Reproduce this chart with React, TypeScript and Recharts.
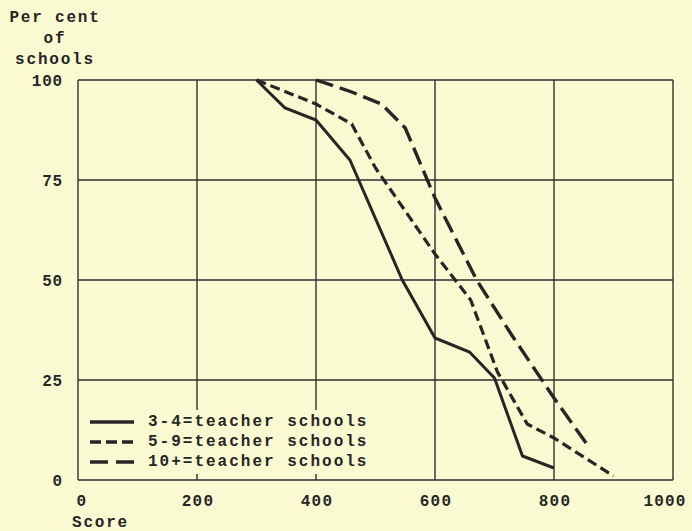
import React from "react";
import {
  LineChart,
  Line,
  XAxis,
  YAxis,
  CartesianGrid,
  Legend,
} from "recharts";

const X_TICKS = [0, 200, 400, 600, 800, 1000];
const Y_TICKS = [0, 25, 50, 75, 100];

const SCORES_3_4 = [300, 348, 400, 457, 545, 600, 658, 700, 747, 800];
const PCT_3_4 = [100, 93, 90, 80, 50, 35.5, 32, 25.5, 6, 3];

const SCORES_5_9 = [300, 400, 460, 500, 600, 660, 705, 755, 800, 900];
const PCT_5_9 = [100, 94, 89, 78, 56.5, 45, 27, 14, 10.5, 1];

const SCORES_10 = [400, 460, 510, 550, 570, 600, 670, 730, 800, 855];
const PCT_10 = [100, 97, 94, 88, 81, 70.5, 50, 36, 20.5, 9];

const SERIES_NAMES = [
  "3-4=teacher schools",
  "5-9=teacher schools",
  "10+=teacher schools",
];

const toPoints = (xs: number[], ys: number[]) =>
  xs.map((score, i) => ({ score, pct: ys[i] }));

const data34 = toPoints(SCORES_3_4, PCT_3_4);
const data59 = toPoints(SCORES_5_9, PCT_5_9);
const data10 = toPoints(SCORES_10, PCT_10);

const BG = "#fafad2";
const INK = "#262626";
const FONT = "'Liberation Mono', 'DejaVu Sans Mono', monospace";
const WEIGHT = 700;

const LINE_DASHES = ["", "10 5", "18 7"];
const LEGEND_DASHES = ["", "11 5", "18 8"];

const LegendContent = (props: any) => {
  const payload = [...(props.payload || [])].sort(
    (a: any, b: any) =>
      SERIES_NAMES.indexOf(a.value) - SERIES_NAMES.indexOf(b.value)
  );
  return (
    <div
      style={{
        background: BG,
        padding: "2px 0 2px 4px",
        fontFamily: FONT,
        fontSize: 16,
        fontWeight: WEIGHT,
        letterSpacing: 2,
        color: INK,
      }}
    >
      {payload.map((p: any) => {
        const idx = SERIES_NAMES.indexOf(p.value);
        return (
          <div
            key={p.value}
            style={{ display: "flex", alignItems: "center", height: 20 }}
          >
            <svg width={44} height={10} style={{ marginRight: 14 }}>
              <line
                x1={0}
                y1={5}
                x2={44}
                y2={5}
                stroke={INK}
                strokeWidth={3.5}
                strokeDasharray={LEGEND_DASHES[idx] || undefined}
              />
            </svg>
            <span>{p.value}</span>
          </div>
        );
      })}
    </div>
  );
};

const XTick = (props: any) => {
  const { x, y, payload } = props;
  const v = payload.value;
  const dx = v === 0 ? 4 : v === 1000 ? -8 : 1;
  return (
    <text
      x={x + dx}
      y={y}
      dy="0.71em"
      textAnchor="middle"
      fill={INK}
      fontFamily={FONT}
      fontSize={16}
      fontWeight={WEIGHT}
      letterSpacing={1.2}
    >
      {v}
    </text>
  );
};

export default function App() {
  return (
    <div
      style={{
        width: 692,
        height: 531,
        background: BG,
        position: "relative",
        overflow: "hidden",
      }}
    >
      <style>{`html, body { margin: 0; padding: 0; background: ${BG}; }`}</style>
      <div
        style={{
          position: "absolute",
          left: 0,
          top: 8,
          width: 110,
          textAlign: "center",
          fontFamily: FONT,
          fontSize: 16,
          fontWeight: WEIGHT,
          letterSpacing: 1.8,
          lineHeight: "21px",
          color: INK,
        }}
      >
        <div>Per cent</div>
        <div>of</div>
        <div>schools</div>
      </div>
      <div
        style={{
          position: "absolute",
          left: 72,
          top: 514,
          lineHeight: "18px",
          fontFamily: FONT,
          fontSize: 16,
          fontWeight: WEIGHT,
          letterSpacing: 1.8,
          color: INK,
        }}
      >
        Score
      </div>
      <LineChart
        width={692}
        height={531}
        margin={{ top: 80, right: 19, left: 0, bottom: 21 }}
        style={{ position: "absolute", left: 0, top: 0 }}
      >
        <CartesianGrid stroke="#2e2e2e" strokeWidth={1.4} />
        <XAxis
          dataKey="score"
          type="number"
          domain={[0, 1000]}
          ticks={X_TICKS}
          axisLine={false}
          tickLine={false}
          tickSize={0}
          tickMargin={15}
          height={30}
          allowDuplicatedCategory={false}
          tick={<XTick />}
        />
        <YAxis
          dataKey="pct"
          type="number"
          domain={[0, 100]}
          ticks={Y_TICKS}
          axisLine={false}
          tickLine={false}
          tickSize={0}
          tickMargin={15}
          width={78}
          tick={{
            fill: INK,
            fontFamily: FONT,
            fontSize: 16,
            fontWeight: WEIGHT,
            letterSpacing: 0.8,
          }}
        />
        <Legend
          layout="vertical"
          align="center"
          verticalAlign="middle"
          content={<LegendContent />}
          wrapperStyle={{ left: 86, top: 410, width: 296 }}
        />
        <Line
          data={data34}
          dataKey="pct"
          name={SERIES_NAMES[0]}
          type="linear"
          stroke={INK}
          strokeWidth={3}
          dot={false}
          activeDot={false}
          isAnimationActive={false}
        />
        <Line
          data={data59}
          dataKey="pct"
          name={SERIES_NAMES[1]}
          type="linear"
          stroke={INK}
          strokeWidth={3.2}
          strokeDasharray={LINE_DASHES[1]}
          dot={false}
          activeDot={false}
          isAnimationActive={false}
        />
        <Line
          data={data10}
          dataKey="pct"
          name={SERIES_NAMES[2]}
          type="linear"
          stroke={INK}
          strokeWidth={3.4}
          strokeDasharray={LINE_DASHES[2]}
          dot={false}
          activeDot={false}
          isAnimationActive={false}
        />
      </LineChart>
    </div>
  );
}
